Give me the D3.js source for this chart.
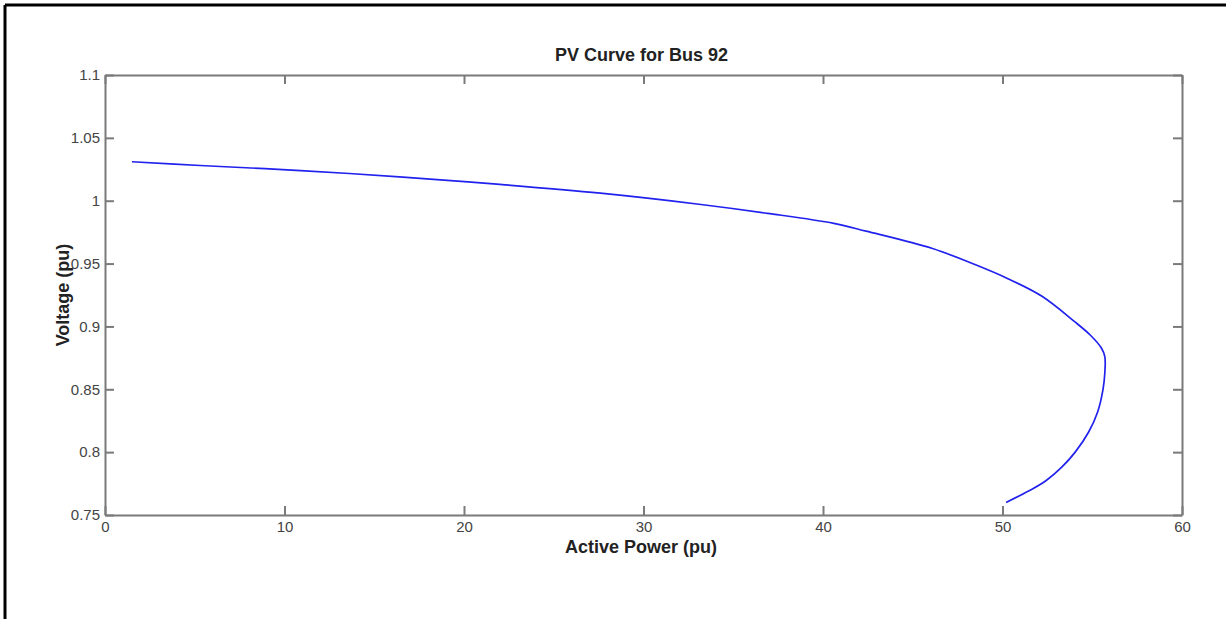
<html>
	<head>
		<meta charset="UTF-8">
		<title>PV Curve for Bus 92</title>
		<script src="https://d3js.org/d3.v7.min.js"></script>
		<style>
        html,body{
            width:100%;height:100%;margin:0;padding:0;background:#fff;
        }
        svg { font-family: "Liberation Sans", Arial, sans-serif; }
        .axis path, .axis line { stroke: #7a7a7a; stroke-width: 2; }
        .axis text { fill: #444; font-size: 15px; }
        .pv {
            fill: none;
            stroke: #2222ee;
            stroke-width: 1.7;
        }
        .lbl { font-weight: bold; font-size: 18px; fill: #222; }
        </style>
	</head>
	<body>
		<div id="container"></div>
		<script>
            // active power (pu) and bus voltage (pu)
            const power   = [1.5, 5.3, 10.9, 16.4, 22.0, 27.6, 33.2, 36.9, 40.6, 42.4, 46.1, 48.5, 50.3, 52.2, 54.0, 54.9, 55.5, 55.7, 55.7, 55.6, 55.3, 54.8, 54.05, 53.3, 52.4, 51.45, 50.2]
            const voltage = [1.031, 1.028, 1.024, 1.019, 1.013, 1.006, 0.997, 0.990, 0.982, 0.9758, 0.962, 0.949, 0.938, 0.924, 0.904, 0.893, 0.883, 0.876, 0.863, 0.850, 0.832, 0.816, 0.800, 0.788, 0.777, 0.769, 0.760]

            const xTicks = [0, 10, 20, 30, 40, 50, 60]
            const yTicks = [0.75, 0.8, 0.85, 0.9, 0.95, 1, 1.05, 1.1]
            const yTickLabels = ["0.75", "0.8", "0.85", "0.9", "0.95", "1", "1.05", "1.1"]

            const W = 1226, H = 619
            const box = { left: 105, right: 1182, top: 75, bottom: 515 }

            const xScale = d3.scaleLinear().domain([0, 60]).range([box.left, box.right])
            const yScale = d3.scaleLinear().domain([0.75, 1.1]).range([box.bottom, box.top])

            const line = d3.line()
                .x(d => xScale(d[0]))
                .y(d => yScale(d[1]))
                .curve(d3.curveCatmullRom.alpha(0.5))

            function render() {
                const svg = d3.select("#container").append("svg")
                    .attr("width", W)
                    .attr("height", H)

                // frame (left + top edges only, as in the figure)
                svg.append("line").attr("x1", 5).attr("y1", 5).attr("x2", 5).attr("y2", H)
                    .attr("stroke", "#000").attr("stroke-width", 3)
                svg.append("line").attr("x1", 5).attr("y1", 5).attr("x2", W).attr("y2", 5)
                    .attr("stroke", "#000").attr("stroke-width", 3)

                svg.append("g")
                    .attr("class", "axis")
                    .attr("transform", "translate(0," + box.bottom + ")")
                    .call(d3.axisBottom(xScale).tickValues(xTicks).tickSizeInner(-9).tickSizeOuter(0).tickPadding(6))

                svg.append("g")
                    .attr("class", "axis")
                    .attr("transform", "translate(0," + box.top + ")")
                    .call(d3.axisTop(xScale).tickValues(xTicks).tickSizeInner(-9).tickSizeOuter(0).tickFormat(""))

                svg.append("g")
                    .attr("class", "axis")
                    .attr("transform", "translate(" + box.left + ",0)")
                    .call(d3.axisLeft(yScale).tickValues(yTicks).tickSizeInner(-9).tickSizeOuter(0).tickPadding(5)
                        .tickFormat((d, i) => yTickLabels[i]))

                svg.append("g")
                    .attr("class", "axis")
                    .attr("transform", "translate(" + box.right + ",0)")
                    .call(d3.axisRight(yScale).tickValues(yTicks).tickSizeInner(-9).tickSizeOuter(0).tickFormat(""))

                svg.append("path")
                    .datum(power.map((p, i) => [p, voltage[i]]))
                    .attr("class", "pv")
                    .attr("d", line)

                svg.append("text")
                    .attr("class", "lbl")
                    .attr("x", (box.left + box.right) / 2 - 2)
                    .attr("y", 55)
                    .attr("text-anchor", "middle")
                    .attr("dominant-baseline", "central")
                    .text("PV Curve for Bus 92")

                svg.append("text")
                    .attr("class", "lbl")
                    .attr("x", 641)
                    .attr("y", 547)
                    .attr("text-anchor", "middle")
                    .attr("dominant-baseline", "central")
                    .text("Active Power (pu)")

                svg.append("text")
                    .attr("class", "lbl")
                    .attr("transform", "translate(63," + (box.top + box.bottom) / 2 + ") rotate(-90)")
                    .attr("text-anchor", "middle")
                    .attr("dominant-baseline", "central")
                    .text("Voltage (pu)")
            }

            render()
        </script>
</body>
</html>
